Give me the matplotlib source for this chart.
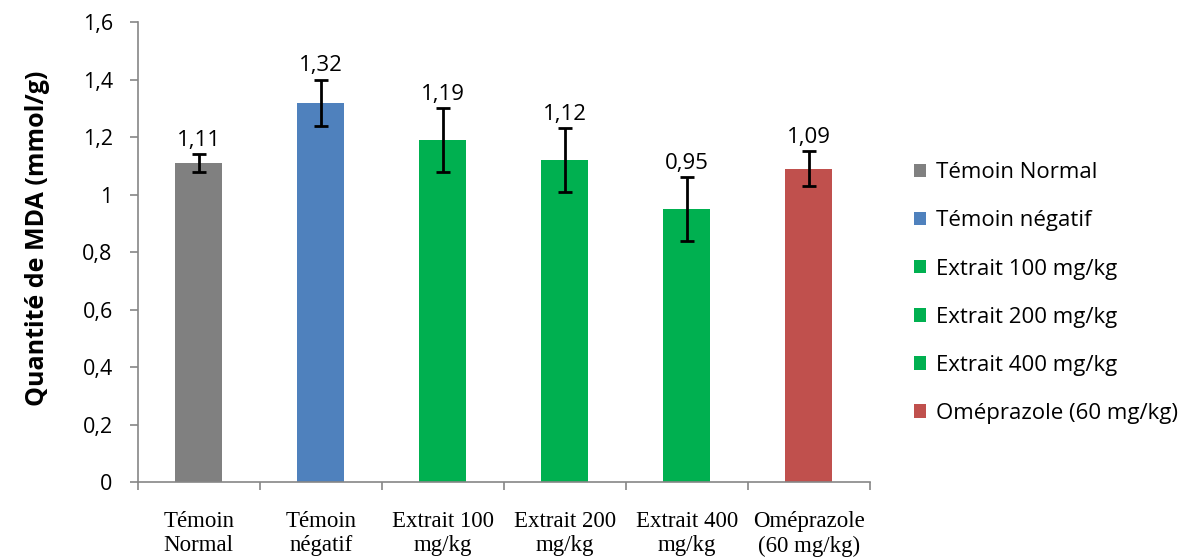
import numpy as np
import matplotlib
matplotlib.use("Agg")
import matplotlib.pyplot as plt
from matplotlib.patches import Patch
from matplotlib.ticker import FuncFormatter, FixedLocator

# data
groups = ["Témoin\nNormal", "Témoin\nnégatif", "Extrait 100\nmg/kg", "Extrait 200\nmg/kg",
          "Extrait 400\nmg/kg", "Oméprazole\n(60 mg/kg)"]
legend_labels = ["Témoin Normal", "Témoin négatif", "Extrait 100 mg/kg", "Extrait 200 mg/kg",
                 "Extrait 400 mg/kg", "Oméprazole (60 mg/kg)"]
mda = [1.11, 1.32, 1.19, 1.12, 0.95, 1.09]
err = [0.03, 0.08, 0.11, 0.11, 0.11, 0.06]
colors = ["#808080", "#4f81bd", "#00b050", "#00b050", "#00b050", "#c0504d"]

sans = ["Open Sans", "DejaVu Sans"]
serif = ["Liberation Serif", "DejaVu Serif"]

fig = plt.figure(figsize=(11.86, 5.58), dpi=100)
ax = fig.add_axes([0.1161, 0.136, 0.6172, 0.8246])

x = np.arange(len(mda))
ax.bar(x, mda, width=0.39, color=colors, zorder=2)
ax.errorbar(x, mda, yerr=err, fmt="none", ecolor="black", elinewidth=2,
            capsize=5, capthick=2, zorder=3)

# labels sit just above the upper whisker, as in the original
for xi, v, e in zip(x, mda, err):
    ax.annotate(f"{v:.2f}".replace(".", ","), (xi, v + e), xytext=(0, 10),
                textcoords="offset points", ha="center", va="center",
                fontsize=16, family=sans, zorder=4)

ax.set_xlim(-0.5, len(mda) - 0.5)
ax.set_ylim(0, 1.6)
ax.set_yticks(np.arange(0, 1.61, 0.2))

def fmt(v, pos):
    s = f"{v:.1f}".replace(".", ",")
    return s[:-2] if s.endswith(",0") else s

ax.yaxis.set_major_formatter(FuncFormatter(fmt))
for lab in ax.get_yticklabels():
    lab.set_family(sans)
    lab.set_fontsize(15.5)

# category boundaries as ticks, names centred between them
ax.xaxis.set_major_locator(FixedLocator(np.arange(-0.5, len(mda), 1.0)))
ax.xaxis.set_major_formatter(FuncFormatter(lambda v, p: ""))
ax.xaxis.set_minor_locator(FixedLocator(x))
ax.set_xticklabels(groups, minor=True, family=serif, fontsize=16.5, linespacing=1.2)
ax.tick_params(axis="x", which="minor", length=0, pad=21)
ax.tick_params(axis="x", which="major", length=6, color="#868686", width=1.2)
ax.tick_params(axis="y", length=6, color="#868686", width=1.2, pad=12)

for s in ["top", "right"]:
    ax.spines[s].set_visible(False)
for s in ["left", "bottom"]:
    ax.spines[s].set_color("#868686")
    ax.spines[s].set_linewidth(1.2)

ax.set_ylabel("Quantité de MDA (mmol/g)", fontsize=18, fontweight="bold", family=sans)
ax.yaxis.set_label_coords(-0.12, 0.53)

handles = [Patch(facecolor=c, edgecolor="none") for c in colors]
fig.legend(handles, legend_labels, loc="upper left", bbox_to_anchor=(0.7536, 0.745),
           frameon=False, prop={"family": sans, "size": 16}, handlelength=0.56,
           handleheight=0.56, handletextpad=0.42, labelspacing=1.22)

fig.savefig("out.png", dpi=100)
